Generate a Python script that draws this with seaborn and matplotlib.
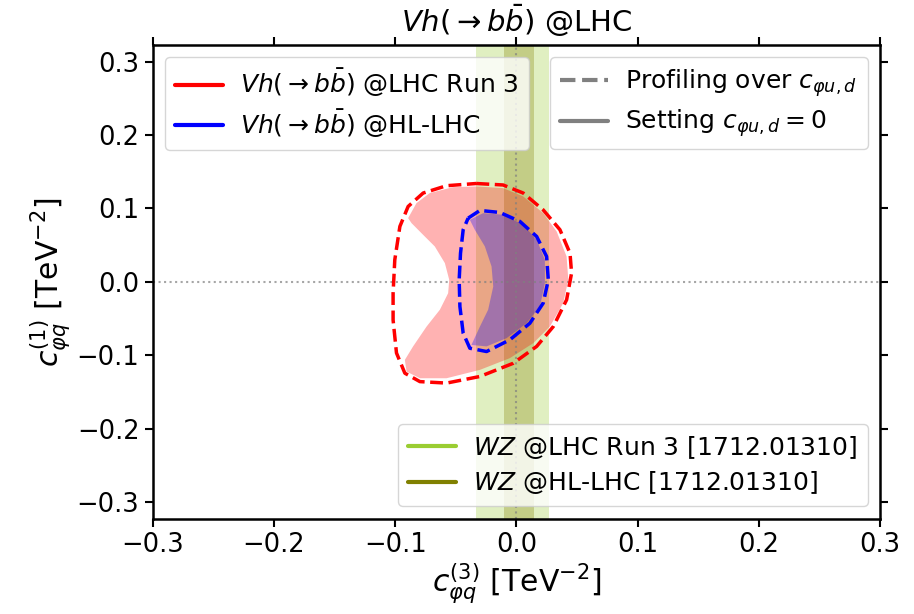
import numpy as np
import pandas as pd
import matplotlib
matplotlib.use("Agg")
import matplotlib.pyplot as plt
from matplotlib.lines import Line2D
from matplotlib.ticker import FuncFormatter
import seaborn as sns

# ── Contour data (c3 = x, c1 = y, TeV^-2) ────────────────────────────────────
# LHC Run 3, profiling over c_phi u,d (dashed red outline)
run3_prof_x = [-0.033, -0.011, 0.0056, 0.0221, 0.0359, 0.0442, 0.0455, 0.0414,
               0.0304, 0.0167, -0.0026, -0.0301, -0.0576, -0.0796, -0.092,
               -0.0989, -0.1017, -0.1017, -0.1003, -0.0961, -0.0893, -0.0769,
               -0.0576]
run3_prof_y = [0.134, 0.132, 0.121, 0.098, 0.071, 0.039, 0.012, -0.0245,
               -0.061, -0.088, -0.111, -0.129, -0.138, -0.136, -0.1245,
               -0.097, -0.052, -0.0155, 0.030, 0.0755, 0.1027, 0.121, 0.131]

# LHC Run 3, c_phi u,d = 0 (filled crescent)
run3_fix_x = [-0.0893, -0.0824, -0.0714, -0.0522, -0.033, -0.011, 0.0056,
              0.0221, 0.0332, 0.0414, 0.0428, 0.0386, 0.0276, 0.0139, -0.0054,
              -0.0301, -0.0576, -0.0796, -0.0906, -0.092,
              -0.0852, -0.0741, -0.0631, -0.0563, -0.0554, -0.059, -0.0673,
              -0.0769, -0.0865]
run3_fix_y = [0.0868, 0.1073, 0.121, 0.129, 0.130, 0.1277, 0.1164, 0.0936,
              0.0686, 0.0345, 0.0027, -0.029, -0.061, -0.0836, -0.104, -0.120,
              -0.1314, -0.1314, -0.1223, -0.1064,
              -0.088, -0.061, -0.038, -0.0155, 0.0027, 0.0255, 0.0482, 0.064,
              0.080]

# HL-LHC, profiling (dashed blue outline)
hl_prof_x = [-0.0398, -0.0301, -0.0136, 0.0029, 0.0167, 0.0249, 0.0263, 0.0221,
             0.0111, -0.0054, -0.0246, -0.0384, -0.0439, -0.0466, -0.0472,
             -0.0461, -0.0439]
hl_prof_y = [0.0868, 0.0973, 0.0945, 0.0823, 0.0618, 0.0345, 0.0027, -0.029,
             -0.0564, -0.079, -0.095, -0.0905, -0.070, -0.0336, 0.0027, 0.039,
             0.071]

# HL-LHC, c_phi u,d = 0 (filled crescent)
hl_fix_x = [-0.0384, -0.0274, -0.0109, 0.0056, 0.0167, 0.0235, 0.0235, 0.0194,
            0.0084, -0.0081, -0.0246, -0.0371,
            -0.0301, -0.0233, -0.0191, -0.0205, -0.026, -0.0343]
hl_fix_y = [0.0845, 0.0936, 0.0914, 0.0777, 0.0573, 0.030, -0.0018, -0.0336,
            -0.0564, -0.0768, -0.088, -0.086,
            -0.061, -0.038, -0.0064, 0.0209, 0.0482, 0.071]

# WZ bounds on c3 [1712.01310]
wz_run3 = [-0.0335, 0.027]
wz_hl = [-0.010, 0.0145]

ticks = [-0.3, -0.2, -0.1, 0.0, 0.1, 0.2, 0.3]


def closed(xs, ys):
    return pd.DataFrame({"x": list(xs) + [xs[0]], "y": list(ys) + [ys[0]]})


sns.set_style("ticks")
plt.rcParams["font.family"] = ["DejaVu Sans"]
plt.rcParams["mathtext.fontset"] = "dejavusans"
for k in ["text.color", "axes.labelcolor", "xtick.color", "ytick.color",
          "axes.edgecolor"]:
    plt.rcParams[k] = "black"

fig = plt.figure(figsize=(9.14, 6.14), dpi=100)
ax = fig.add_axes([0.167, 0.155, 0.796, 0.772])

ax.axvspan(*wz_run3, color="yellowgreen", alpha=0.3, lw=0)
ax.axvspan(*wz_hl, color="olive", alpha=0.3, lw=0)

ax.fill(run3_fix_x, run3_fix_y, color="red", alpha=0.3, lw=0)
ax.fill(hl_fix_x, hl_fix_y, color="blue", alpha=0.3, lw=0)

ax.axhline(0, color="gray", ls=":", lw=1.5, alpha=0.7)
ax.axvline(0, color="gray", ls=":", lw=1.5, alpha=0.7)

sns.lineplot(data=closed(run3_prof_x, run3_prof_y), x="x", y="y", sort=False,
             estimator=None, color="red", ls="--", lw=2.5, ax=ax)
sns.lineplot(data=closed(hl_prof_x, hl_prof_y), x="x", y="y", sort=False,
             estimator=None, color="blue", ls="--", lw=2.5, ax=ax)

ax.set_xlim(-0.3, 0.3)
ax.set_ylim(-0.323, 0.323)
ax.set_xticks(ticks)
ax.set_yticks(ticks)
fmt = FuncFormatter(lambda v, p: f"{abs(v):.1f}" if abs(v) < 1e-9
                    else f"{v:.1f}".replace("-", "\u2212"))
ax.xaxis.set_major_formatter(fmt)
ax.yaxis.set_major_formatter(fmt)
ax.tick_params(direction="out", length=6, width=1.5, labelsize=18.5,
               top=True, right=True)
for sp in ax.spines.values():
    sp.set_linewidth(1.8)
    sp.set_visible(True)

ax.set_xlabel(r"$c_{\varphi q}^{(3)}$ [TeV$^{-2}$]", fontsize=21.5, labelpad=3)
ax.set_ylabel(r"$c_{\varphi q}^{(1)}$ [TeV$^{-2}$]", fontsize=21.5, labelpad=3)
ax.set_title(r"$Vh(\to b\bar{b})$ @LHC", fontsize=21, pad=9)

leg_kw = dict(fontsize=18, labelspacing=0.35, handlelength=1.9,
              handletextpad=0.7)
leg1 = ax.legend(
    handles=[Line2D([], [], color="red", lw=3),
             Line2D([], [], color="blue", lw=3)],
    labels=[r"$Vh(\to b\bar{b})$ @LHC Run 3", r"$Vh(\to b\bar{b})$ @HL-LHC"],
    loc="upper left", **leg_kw)
leg2 = ax.legend(
    handles=[Line2D([], [], color="gray", lw=3, ls="--"),
             Line2D([], [], color="gray", lw=3)],
    labels=[r"Profiling over $c_{\varphi u,d}$", r"Setting $c_{\varphi u,d} = 0$"],
    loc="upper right", **leg_kw)
leg3 = ax.legend(
    handles=[Line2D([], [], color="yellowgreen", lw=3),
             Line2D([], [], color="olive", lw=3)],
    labels=[r"$WZ$ @LHC Run 3 [1712.01310]", r"$WZ$ @HL-LHC [1712.01310]"],
    loc="lower right", **leg_kw)
ax.add_artist(leg1)
ax.add_artist(leg2)

fig.savefig("out.png", dpi=100)
